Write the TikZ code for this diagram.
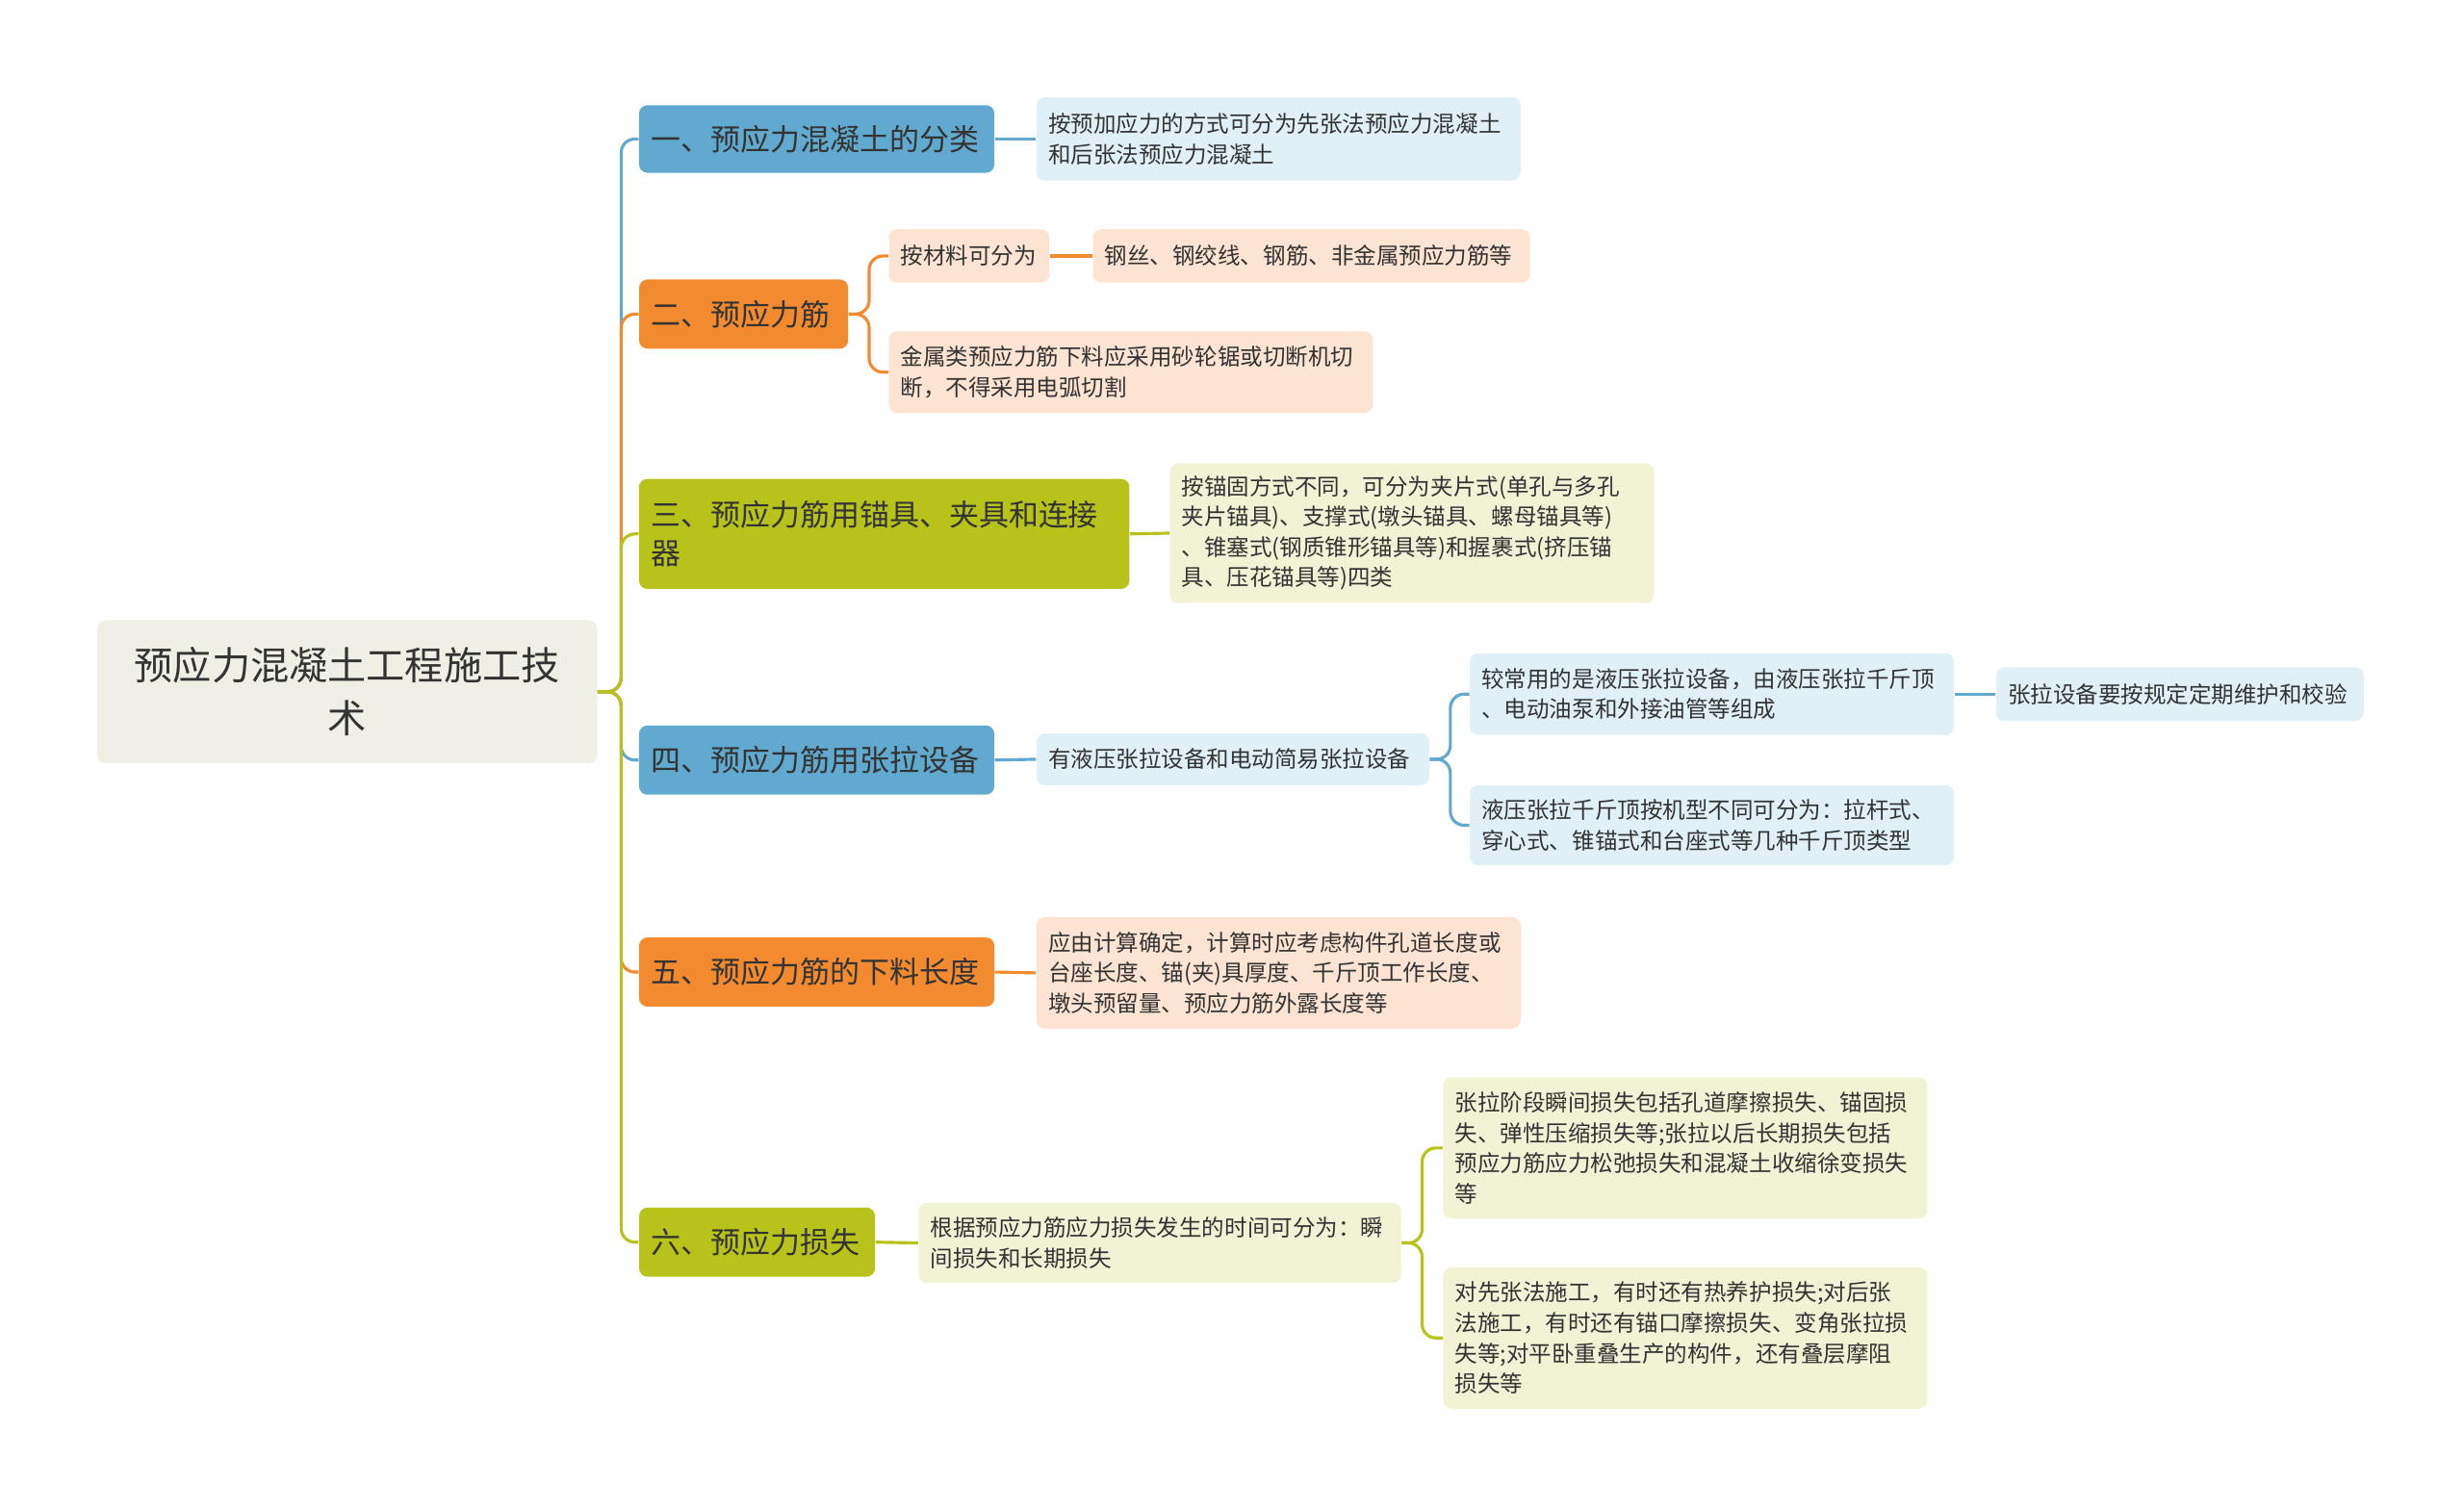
\documentclass[tikz,border=0pt]{standalone}
\usepackage{fontspec}
\setmainfont{Noto Sans CJK SC}
\definecolor{cb}{HTML}{62A9CF}\definecolor{co}{HTML}{F28A30}\definecolor{cg}{HTML}{B7C31A}
\definecolor{lb}{HTML}{E1F0F7}\definecolor{lo}{HTML}{FDE3D2}\definecolor{lg}{HTML}{F2F3D5}
\definecolor{rt}{HTML}{EFEFE6}\definecolor{tx}{HTML}{333333}
\newcommand\bx[7]{%
 \pgfmathsetmacro\bw{(#4-#2)*0.02}\pgfmathsetmacro\bh{(#5-#3)*0.02}%
 \pgfmathsetmacro\tw{\bw-0.3}%
 \pgfmathsetmacro\bxc{(#2+#4)*0.01}\pgfmathsetmacro\byc{-(#3+#5)*0.01}%
 \node[#6,minimum width=\bw cm,minimum height=\bh cm,text width=\tw cm] (#1) at (\bxc,\byc) {#7};}
\begin{document}
\begin{tikzpicture}[
 box/.style={rounded corners=3pt,inner sep=0pt,align=left,text=tx,font=\fontsize{8.2}{11}\selectfont},
 l1/.style={box,font=\fontsize{10.8}{14}\selectfont},
 ln/.style={line width=1.1pt,rounded corners=5pt}]
\useasboundingbox (0,0) rectangle (31.36,-19.2);
\bx{r}{62}{395}{380}{486}{box,fill=rt,align=center,font=\fontsize{14}{19}\selectfont}{预应力混凝土工程施工技\\术}
\bx{a}{407}{67}{633}{110}{l1,fill=cb}{一、预应力混凝土的分类}
\bx{b}{407}{178}{540}{222}{l1,fill=co}{二、预应力筋}
\bx{c}{407}{305}{719}{375}{l1,fill=cg}{三、预应力筋用锚具、夹具和连接\\器}
\bx{d}{407}{462}{633}{506}{l1,fill=cb}{四、预应力筋用张拉设备}
\bx{e}{407}{597}{633}{641}{l1,fill=co}{五、预应力筋的下料长度}
\bx{f}{407}{769}{557}{813}{l1,fill=cg}{六、预应力损失}
\bx{a1}{660}{62}{968}{115}{box,fill=lb}{按预加应力的方式可分为先张法预应力混凝土\\和后张法预应力混凝土}
\bx{b1}{566}{146}{668}{180}{box,fill=lo}{按材料可分为}
\bx{b11}{696}{146}{974}{180}{box,fill=lo}{钢丝、钢绞线、钢筋、非金属预应力筋等}
\bx{b2}{566}{211}{874}{263}{box,fill=lo}{金属类预应力筋下料应采用砂轮锯或切断机切\\断，不得采用电弧切割}
\bx{c1}{745}{295}{1053}{384}{box,fill=lg}{按锚固方式不同，可分为夹片式(单孔与多孔\\夹片锚具)、支撑式(墩头锚具、螺母锚具等)\\、锥塞式(钢质锥形锚具等)和握裹式(挤压锚\\具、压花锚具等)四类}
\bx{d1}{660}{467}{910}{500}{box,fill=lb}{有液压张拉设备和电动简易张拉设备}
\bx{d11}{936}{416}{1244}{468}{box,fill=lb}{较常用的是液压张拉设备，由液压张拉千斤顶\\、电动油泵和外接油管等组成}
\bx{d111}{1271}{425}{1505}{459}{box,fill=lb}{张拉设备要按规定定期维护和校验}
\bx{d12}{936}{500}{1244}{551}{box,fill=lb}{液压张拉千斤顶按机型不同可分为：拉杆式、\\穿心式、锥锚式和台座式等几种千斤顶类型}
\bx{e1}{660}{584}{968}{655}{box,fill=lo}{应由计算确定，计算时应考虑构件孔道长度或\\台座长度、锚(夹)具厚度、千斤顶工作长度、\\墩头预留量、预应力筋外露长度等}
\bx{f1}{585}{766}{892}{817}{box,fill=lg}{根据预应力筋应力损失发生的时间可分为：瞬\\间损失和长期损失}
\bx{f11}{919}{686}{1227}{776}{box,fill=lg}{张拉阶段瞬间损失包括孔道摩擦损失、锚固损\\失、弹性压缩损失等;张拉以后长期损失包括\\预应力筋应力松弛损失和混凝土收缩徐变损失\\等}
\bx{f12}{919}{807}{1227}{897}{box,fill=lg}{对先张法施工，有时还有热养护损失;对后张\\法施工，有时还有锚口摩擦损失、变角张拉损\\失等;对平卧重叠生产的构件，还有叠层摩阻\\损失等}
\foreach \n/\c in {a/cb,b/co,c/cg,d/cb,e/co,f/cg}
  \draw[ln,\c] (r.east) -- ++(0.3,0) |- (\n.west);
\draw[ln,cb] (a.east) -- (a1.west);
\draw[ln,co] (b.east) -- ++(0.26,0) |- (b1.west);
\draw[ln,co] (b.east) -- ++(0.26,0) |- (b2.west);
\draw[ln,co] (b1.east) -- (b11.west);
\draw[ln,cg] (c.east) -- (c1.west);
\draw[ln,cb] (d.east) -- (d1.west);
\draw[ln,cb] (d1.east) -- ++(0.26,0) |- (d11.west);
\draw[ln,cb] (d1.east) -- ++(0.26,0) |- (d12.west);
\draw[ln,cb] (d11.east) -- (d111.west);
\draw[ln,co] (e.east) -- (e1.west);
\draw[ln,cg] (f.east) -- (f1.west);
\draw[ln,cg] (f1.east) -- ++(0.26,0) |- (f11.west);
\draw[ln,cg] (f1.east) -- ++(0.26,0) |- (f12.west);
\end{tikzpicture}
\end{document}
